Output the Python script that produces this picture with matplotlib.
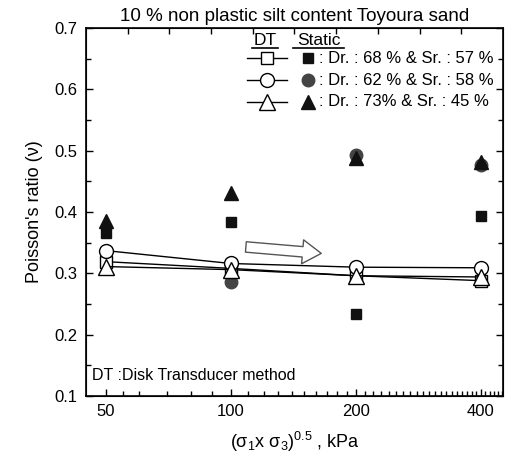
import matplotlib
matplotlib.use("Agg")
import matplotlib.pyplot as plt
import numpy as np

plt.rcParams['font.family'] = ['Liberation Sans', 'DejaVu Sans']
plt.rcParams['mathtext.fontset'] = 'custom'
plt.rcParams['mathtext.rm'] = 'Liberation Sans'
plt.rcParams['mathtext.it'] = 'Liberation Sans:italic'

# Mean effective stress (kPa)
stress = [50, 100, 200, 400]

# Disk transducer (DT) results
dt_square = [0.319, 0.308, 0.296, 0.288]
dt_circle = [0.337, 0.316, 0.310, 0.309]
dt_triangle = [0.311, 0.306, 0.296, 0.294]

# Static test results
st_square_x = [50, 100, 200, 400]
st_square = [0.365, 0.384, 0.233, 0.393]
st_circle_x = [100, 200, 400]
st_circle = [0.286, 0.493, 0.477]
st_triangle_x = [50, 100, 200, 400]
st_triangle = [0.386, 0.431, 0.488, 0.482]

legend_rows = [": Dr. : 68 % & Sr. : 57 %",
               ": Dr. : 62 % & Sr. : 58 %",
               ": Dr. : 73% & Sr. : 45 %"]

x_major = [50, 100, 200, 400]
x_minor = [55, 60, 70, 80, 90] + list(range(110, 460, 10))

fig = plt.figure(figsize=(5.06, 4.55), dpi=100)
ax = fig.add_axes([0.170, 0.130, 0.824, 0.808])

ax.set_xscale('log')
ax.set_xlim(44.75, 452)
ax.set_ylim(0.1, 0.7)

# static points
ax.plot(st_circle_x, st_circle, 'o', color='#444444', ms=9, mec='#444444', zorder=3)
ax.plot(st_triangle_x, st_triangle, '^', color='#111111', ms=10, zorder=4)
ax.plot(st_square_x, st_square, 's', color='#111111', ms=7.5, zorder=4)

# DT lines
ax.plot(stress, dt_square, '-s', color='black', lw=1.0, ms=9, mfc='white', mec='black', mew=1.0, zorder=5)
ax.plot(stress, dt_triangle, '-^', color='black', lw=1.0, ms=11, mfc='white', mec='black', mew=1.0, zorder=6)
ax.plot(stress, dt_circle, '-o', color='black', lw=1.0, ms=10, mfc='white', mec='black', mew=1.0, zorder=5)

# trend arrow
ax.annotate("", xy=(165, 0.3325), xytext=(108.6, 0.343),
            arrowprops=dict(arrowstyle="simple,head_length=0.9,head_width=1.15,tail_width=0.5",
                            fc='white', ec='#555555', lw=1.0, shrinkA=0, shrinkB=0,
                            mutation_scale=15))

ax.set_xticks(x_major)
ax.set_xticklabels([str(v) for v in x_major])
ax.set_xticks(x_minor, minor=True)
ax.xaxis.set_minor_formatter(matplotlib.ticker.NullFormatter())
ax.set_yticks(np.arange(0.1, 0.71, 0.1))
ax.set_yticklabels(["0.1", "0.2", "0.3", "0.4", "0.5", "0.6", "0.7"])
ax.set_yticks(np.arange(0.15, 0.7, 0.1), minor=True)
ax.tick_params(axis='both', which='major', direction='in', length=5, width=1.0,
               labelsize=12, pad=6)
ax.tick_params(axis='both', which='minor', direction='in', length=3.5, width=1.0)
ax.tick_params(axis='y', which='both', right=True)
for s in ax.spines.values():
    s.set_linewidth(1.2)

# evenly spaced ticks along the top edge
top = ax.twiny()
top.set_xlim(0, 10)
top.set_xticks(range(1, 10))
top.tick_params(direction='in', length=4, width=1.0, labeltop=False)
top.set_zorder(ax.get_zorder() - 1)
ax.patch.set_visible(False)

ax.set_title("10 % non plastic silt content Toyoura sand", fontsize=13.5, pad=5)
ax.set_ylabel("Poisson's ratio (ν)", fontsize=13, labelpad=8)
ax.set_xlabel(r"($\mathregular{\sigma_1}$x $\mathregular{\sigma_3}$)$\mathregular{^{0.5}}$ , kPa",
              fontsize=13, labelpad=8)

ax.text(0.014, 0.055, "DT :Disk Transducer method", transform=ax.transAxes,
        fontsize=11.5, ha='left', va='center')

# legend block
T = ax.transAxes
ax.text(0.429, 0.967, "DT", transform=T, fontsize=12.5, ha='center', va='center')
ax.plot([0.398, 0.460], [0.946, 0.946], color='black', lw=1.2, transform=T, clip_on=False)
ax.text(0.558, 0.967, "Static", transform=T, fontsize=12.5, ha='center', va='center')
ax.plot([0.497, 0.619], [0.946, 0.946], color='black', lw=1.2, transform=T, clip_on=False)

rows_y = [0.918, 0.859, 0.800]
dt_marks = ['s', 'o', '^']
dt_ms = [9, 10, 11]
st_marks = ['s', 'o', '^']
st_cols = ['#111111', '#444444', '#111111']
st_ms = [7.5, 9, 10]
for y, lbl, dm, dms, sm, sc, sms in zip(rows_y, legend_rows, dt_marks, dt_ms,
                                         st_marks, st_cols, st_ms):
    ax.plot([0.385, 0.481], [y, y], color='black', lw=1.0, transform=T, clip_on=False)
    ax.plot([0.433], [y], dm, ms=dms, mfc='white', mec='black', mew=1.0, transform=T,
            clip_on=False)
    ax.plot([0.532], [y], sm, ms=sms, color=sc, transform=T, clip_on=False)
    ax.text(0.558, y, lbl, transform=T, fontsize=12, ha='left', va='center')

fig.savefig("out.png", dpi=100)
